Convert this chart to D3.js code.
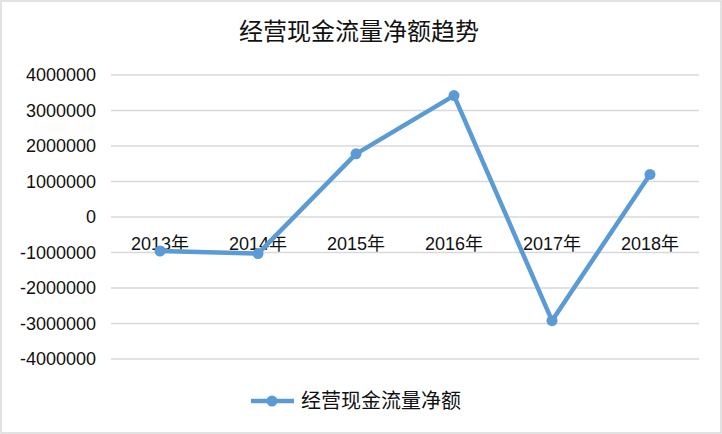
<!DOCTYPE html>
<html>
<head>
<meta charset="utf-8">
<script src="https://cdn.jsdelivr.net/npm/d3@7"></script>
<style>
  body { margin: 0; background: #fff; }
  .tick text { font-family: "Liberation Sans", "Noto Sans CJK SC", sans-serif; }
</style>
</head>
<body>
<div id="chart-area"></div>
<script>
// Data
let years = ["2013年", "2014年", "2015年", "2016年", "2017年", "2018年"];
let netCashFlow = [-960000, -1030000, 1780000, 3420000, -2920000, 1200000];
let yTicks = [-4000000, -3000000, -2000000, -1000000, 0, 1000000, 2000000, 3000000, 4000000];
let seriesName = "经营现金流量净额";
let chartTitle = "经营现金流量净额趋势";

let W = 722, H = 434;
let margin = {top: 75, right: 23, bottom: 75, left: 111},
    width = W - margin.left - margin.right,
    height = 359 - margin.top;

let color = "#5b9bd5";

let svg = d3.select("#chart-area").append("svg")
    .attr("width", W)
    .attr("height", H);

// Outer border
svg.append("rect")
    .attr("x", 1).attr("y", 1)
    .attr("width", W - 2).attr("height", H - 2)
    .attr("fill", "#fff")
    .attr("stroke", "#d9d9d9")
    .attr("stroke-width", 1.5);

// Title
svg.append("text")
    .attr("x", 359)
    .attr("y", 40)
    .attr("text-anchor", "middle")
    .style("font-family", "'Noto Sans CJK SC', sans-serif")
    .style("font-size", "24px")
    .style("fill", "#111")
    .text(chartTitle);

let g = svg.append("g")
    .attr("transform", "translate(" + margin.left + "," + margin.top + ")");

// Scales
let x = d3.scaleBand()
    .domain(years)
    .range([0, width]);

let y = d3.scaleLinear()
    .domain([-4000000, 4000000])
    .range([height, 0]);

// Gridlines
g.append("g")
    .attr("class", "grid")
    .selectAll("line")
    .data(yTicks)
    .enter().append("line")
    .attr("x1", 0).attr("x2", width)
    .attr("y1", d => y(d)).attr("y2", d => y(d))
    .attr("stroke", "#d9d9d9")
    .attr("stroke-width", 1.5);

// Y axis (plain hyphen for negatives, like the original)
let yAxis = d3.axisLeft(y)
    .tickValues(yTicks)
    .tickSize(0)
    .tickPadding(15)
    .tickFormat(d => String(d));

let yAxisGroup = g.append("g")
    .attr("class", "y-axis axis")
    .call(yAxis);
yAxisGroup.select(".domain").remove();
yAxisGroup.selectAll("text")
    .style("font-size", "18px")
    .style("fill", "#111");

// X axis labels sit just under the zero line
let xAxis = d3.axisBottom(x)
    .tickSize(0)
    .tickPadding(20);

let xAxisGroup = g.append("g")
    .attr("class", "x-axis axis")
    .attr("transform", "translate(0," + y(0) + ")")
    .call(xAxis);
xAxisGroup.select(".domain").remove();
xAxisGroup.selectAll("text")
    .style("font-size", "18px")
    .style("fill", "#111");

// Line
let line = d3.line()
    .x((d, i) => x(years[i]) + x.bandwidth() / 2)
    .y(d => y(d));

g.append("path")
    .datum(netCashFlow)
    .attr("fill", "none")
    .attr("stroke", color)
    .attr("stroke-width", 4.5)
    .attr("stroke-linejoin", "round")
    .attr("d", line);

g.selectAll(".dot")
    .data(netCashFlow)
    .enter().append("circle")
    .attr("class", "dot")
    .attr("cx", (d, i) => x(years[i]) + x.bandwidth() / 2)
    .attr("cy", d => y(d))
    .attr("r", 5.5)
    .attr("fill", color);

// Legend
let legend = svg.append("g")
    .attr("transform", "translate(251,401)");

legend.append("line")
    .attr("x1", 0).attr("x2", 43)
    .attr("y1", 0).attr("y2", 0)
    .attr("stroke", color)
    .attr("stroke-width", 4.5);

legend.append("circle")
    .attr("cx", 21).attr("cy", 0)
    .attr("r", 5.5)
    .attr("fill", color);

legend.append("text")
    .attr("x", 50)
    .attr("y", 7)
    .style("font-family", "'Noto Sans CJK SC', sans-serif")
    .style("font-size", "20px")
    .style("fill", "#111")
    .text(seriesName);
</script>
</body>
</html>
